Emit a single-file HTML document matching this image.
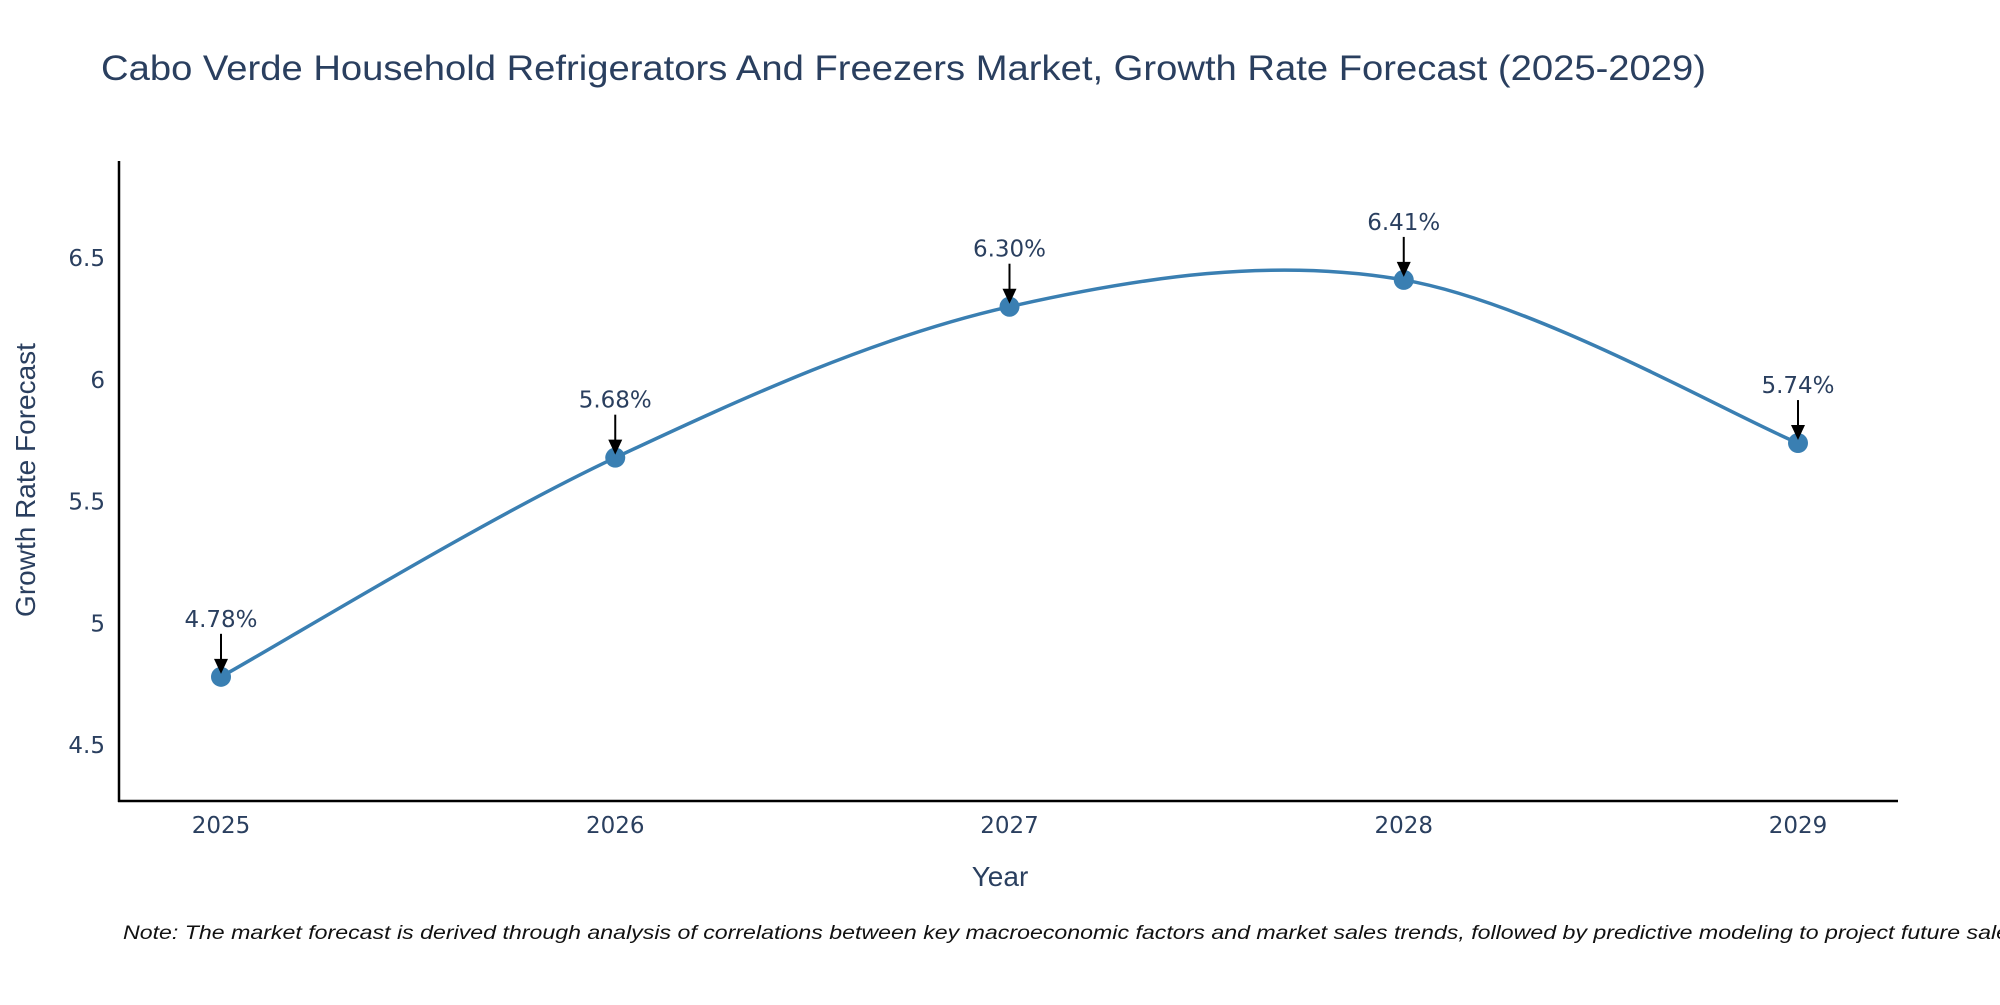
<!DOCTYPE html>
<html><head><meta charset="utf-8"><style>
body{margin:0;background:#fff;}
svg text{font-family:"Liberation Sans",sans-serif;fill:#2a3f5f;}
</style></head><body>
<svg width="2000" height="1000" xmlns="http://www.w3.org/2000/svg">
<text x="101" y="80" font-size="35" textLength="1605" lengthAdjust="spacingAndGlyphs">Cabo Verde Household Refrigerators And Freezers Market, Growth Rate Forecast (2025-2029)</text>
<g id="plot"></g>
<text x="1000" y="886" font-size="28" text-anchor="middle">Year</text>
<text transform="translate(35,480) rotate(-90)" font-size="28" text-anchor="middle">Growth Rate Forecast</text>
<text x="123" y="939" font-size="19" font-style="italic" textLength="1904" lengthAdjust="spacingAndGlyphs" style="fill:#111">Note: The market forecast is derived through analysis of correlations between key macroeconomic factors and market sales trends, followed by predictive modeling to project future sales.</text>
</svg>
<script>
const years=[2025,2026,2027,2028,2029];
const values=[4.78,5.68,6.30,6.41,5.74];
const labels=["4.78%","5.68%","6.30%","6.41%","5.74%"];
const yTicks=[4.5,5,5.5,6,6.5];
const NS="http://www.w3.org/2000/svg";
const g=document.getElementById('plot');
const X=v=>221+(v-2025)*(1798-221)/4;
const Y=v=>745-(v-4.5)*243.5;
function el(t,a){const e=document.createElementNS(NS,t);for(const k in a)e.setAttribute(k,a[k]);g.appendChild(e);return e;}
let ax=el('line',{x1:119,y1:161,x2:119,y2:802,stroke:'#000','stroke-width':2.5});


let bx=el('line',{x1:118,y1:801,x2:1898,y2:801,stroke:'#000','stroke-width':2.5});


yTicks.forEach(t=>{const e=el('text',{x:105,y:Y(t)+8,'font-size':23,'text-anchor':'end',style:'font-family:"DejaVu Sans",sans-serif'});e.textContent=String(t);

});
years.forEach(t=>{const e=el('text',{x:X(t),y:833,'font-size':23,'text-anchor':'middle',style:'font-family:"DejaVu Sans",sans-serif'});e.textContent=String(t);

});
const P=years.map((y,i)=>[X(y),Y(values[i])]);
let d=`M${P[0][0]},${P[0][1]}`;const s=0.5;
for(let i=0;i<P.length-1;i++){const p0=P[i-1]||P[i],p1=P[i],p2=P[i+1],p3=P[i+2]||P[i+1];
const c1=[p1[0]+(p2[0]-p0[0])*s/3,p1[1]+(p2[1]-p0[1])*s/3],c2=[p2[0]-(p3[0]-p1[0])*s/3,p2[1]-(p3[1]-p1[1])*s/3];
d+=` C${c1[0]},${c1[1]} ${c2[0]},${c2[1]} ${p2[0]},${p2[1]}`;}
let ln=el('path',{d:d,fill:'none',stroke:'#3a7fb2','stroke-width':3.5});


P.forEach((p,i)=>{let c=el('circle',{cx:p[0],cy:p[1],r:10,fill:'#3a7fb2'});


let a=el('line',{x1:p[0],y1:p[1]-43,x2:p[0],y2:p[1]-16,stroke:'#000','stroke-width':2});


let h=el('path',{d:`M${p[0]-7},${p[1]-18} L${p[0]+7},${p[1]-18} L${p[0]},${p[1]-3} Z`,fill:'#000'});


let t=el('text',{x:p[0],y:p[1]-50,'font-size':23,'text-anchor':'middle',style:'font-family:"DejaVu Sans",sans-serif'});t.textContent=labels[i];

});
</script>
</body></html>
